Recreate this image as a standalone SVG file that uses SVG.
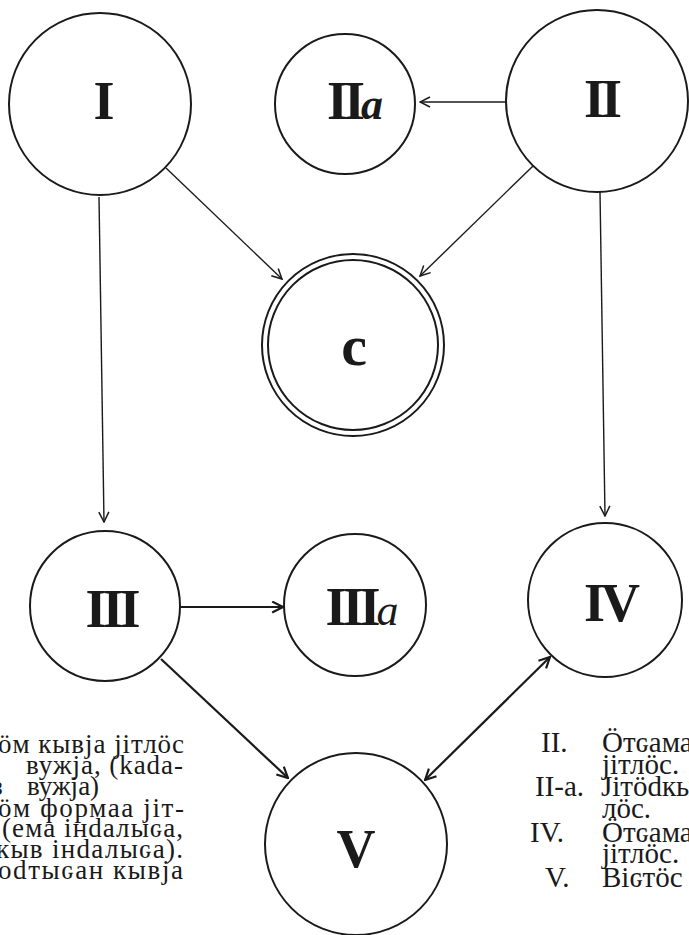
<svg xmlns="http://www.w3.org/2000/svg" width="689" height="935" viewBox="0 0 689 935">
<style>
.node{fill:none;stroke:#1a1a1a;stroke-width:2}
.lbl{font-family:"Liberation Serif","DejaVu Serif",serif;font-weight:bold;fill:#1a1a1a;text-anchor:middle}
.num{font-size:54px;letter-spacing:-4px}
.sm{font-family:"Liberation Serif","DejaVu Serif",serif;fill:#1a1a1a;font-size:27px}
.rt{font-family:"Liberation Serif","DejaVu Serif",serif;fill:#1a1a1a;font-size:29px}
.c1{fill:none;stroke:#1a1a1a;stroke-width:1.4}
.c2{fill:none;stroke:#1a1a1a;stroke-width:2.2}
</style>
<defs>
<marker id="arr" viewBox="0 0 12 12" refX="11" refY="6" markerWidth="12" markerHeight="12" markerUnits="userSpaceOnUse" orient="auto-start-reverse">
<path d="M1,1 L11,6 L1,11" fill="none" stroke="#1a1a1a" stroke-width="1.5"/>
</marker>
<marker id="arr2" viewBox="0 0 12 12" refX="11" refY="6" markerWidth="13" markerHeight="13" markerUnits="userSpaceOnUse" orient="auto-start-reverse">
<path d="M1,1 L11,6 L1,11" fill="none" stroke="#1a1a1a" stroke-width="2"/>
</marker>
</defs>
<rect width="689" height="935" fill="#fff"/>

<g id="connectors">
<path class="c1" d="M507,102 L420,102" marker-end="url(#arr)"/>
<path class="c1" d="M166,168 L282,279" marker-end="url(#arr)"/>
<path class="c1" d="M533,166 L420,276" marker-end="url(#arr)"/>
<path class="c1" d="M99,197 L104,522" marker-end="url(#arr)"/>
<path class="c1" d="M600,192 L605,516" marker-end="url(#arr)"/>
<path class="c2" d="M180,607 L283,607" marker-end="url(#arr2)"/>
<path class="c2" d="M161,659 L288,778" marker-end="url(#arr2)"/>
<path class="c2" d="M425,780 L550,657" marker-start="url(#arr2)" marker-end="url(#arr2)"/>
</g>

<g id="node-I">
<circle class="node" cx="100" cy="104" r="91"/>
<text class="lbl num" x="102" y="119">I</text>
</g>
<g id="node-IIa">
<circle class="node" cx="345" cy="104" r="70"/>
<text class="lbl num" x="355" y="119">II<tspan font-style="italic" font-size="44" letter-spacing="0">a</tspan></text>
</g>
<g id="node-II">
<circle class="node" cx="597" cy="101" r="91"/>
<text class="lbl num" x="601" y="117">II</text>
</g>
<g id="node-C">
<circle class="node" cx="353" cy="345" r="91"/>
<circle class="node" cx="353" cy="345" r="85" stroke-width="1.6"/>
<text class="lbl" x="354" y="365" font-size="58">c</text>
</g>
<g id="node-III">
<circle class="node" cx="105" cy="606" r="75"/>
<text class="lbl num" x="111" y="627">III</text>
</g>
<g id="node-IIIa">
<circle class="node" cx="355" cy="605" r="71"/>
<text class="lbl num" x="362" y="625">III<tspan font-style="italic" font-weight="normal" font-size="44" letter-spacing="0">a</tspan></text>
</g>
<g id="node-IV">
<circle class="node" cx="605" cy="600" r="77"/>
<text class="lbl num" x="610" y="621">IV</text>
</g>
<g id="node-V">
<circle class="node" cx="356" cy="844" r="91"/>
<text class="lbl num" x="354" y="867">V</text>
</g>

<g id="legend-left">
<text class="sm" x="-2" y="753" textLength="186" lengthAdjust="spacing">öм кывja jiтлöс</text>
<text class="sm" x="26" y="774" textLength="157" lengthAdjust="spacing">вужja, (kadа-</text>
<text class="sm" y="795"><tspan x="-8">з</tspan><tspan x="27">вужja)</tspan></text>
<text class="sm" x="-2" y="817" textLength="186" lengthAdjust="spacing">öм формаа jiт-</text>
<text class="sm" x="2" y="837" textLength="181" lengthAdjust="spacing">(ема iнdалыԍа,</text>
<text class="sm" x="-4" y="858" textLength="187" lengthAdjust="spacing">кыв iнdалыԍа).</text>
<text class="sm" x="-2" y="879" textLength="185" lengthAdjust="spacing">оdтыԍан кывja</text>
</g>

<g id="legend-right">
<text class="rt" x="541" y="752">II.</text>
<text class="rt" x="602" y="752">Öтԍама</text>
<text class="rt" x="602" y="774">jiтлöс.</text>
<text class="rt" x="535" y="796">II-a.</text>
<text class="rt" x="601" y="796">Jiтödкы</text>
<text class="rt" x="602" y="818">лöс.</text>
<text class="rt" x="530" y="842">IV.</text>
<text class="rt" x="602" y="842">Öтԍама</text>
<text class="rt" x="602" y="863">jiтлöс.</text>
<text class="rt" x="545" y="887">V.</text>
<text class="rt" x="602" y="887">Biԍтöс</text>
</g>
</svg>
